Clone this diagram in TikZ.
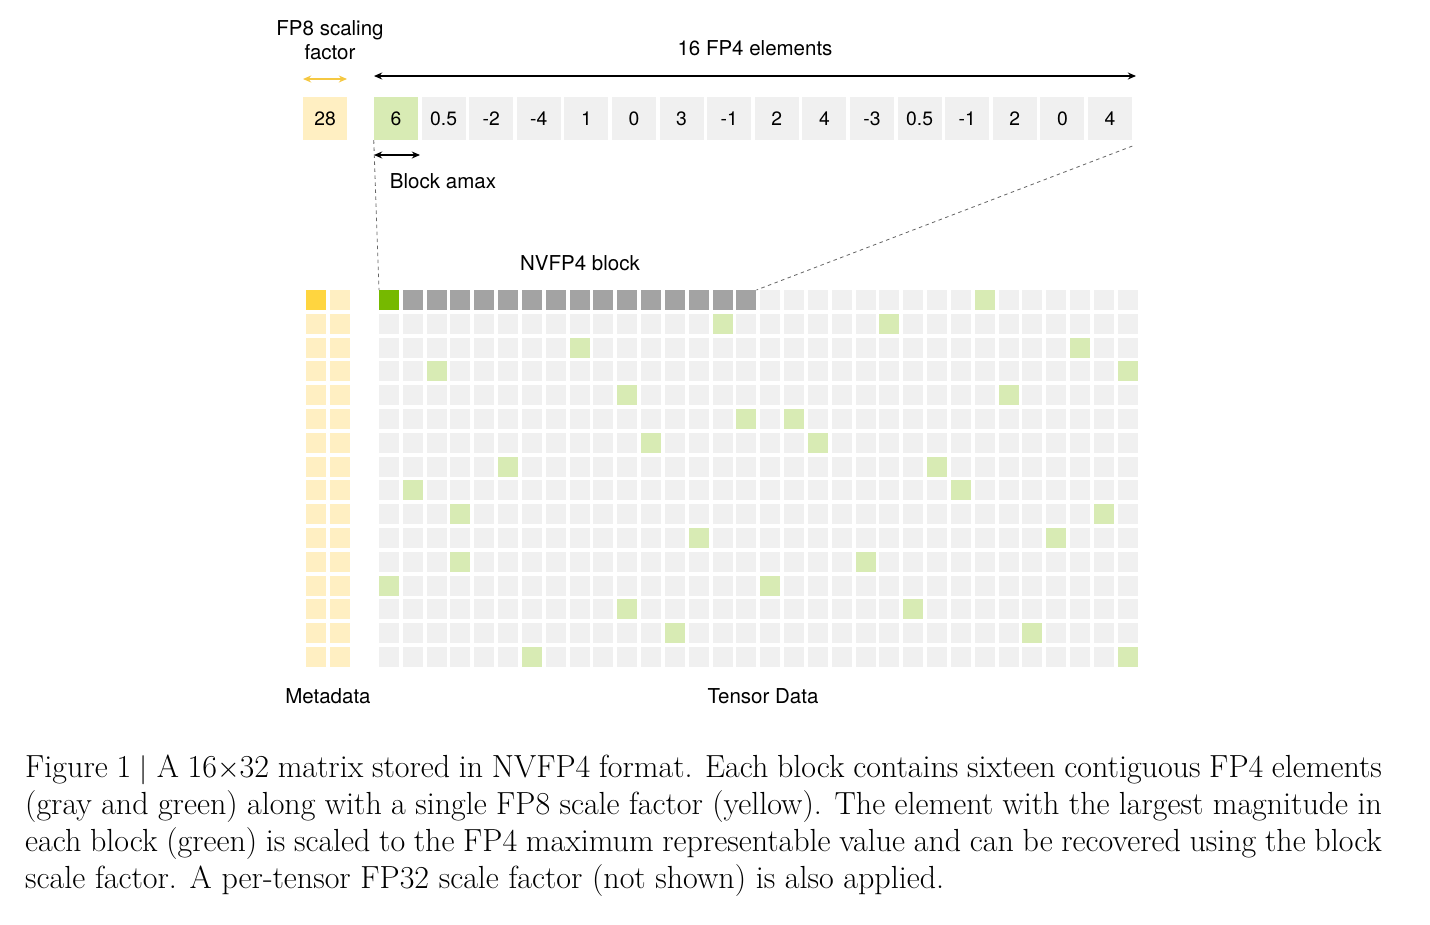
\documentclass[tikz,border=0pt]{standalone}
\usepackage{fontspec}
\newfontfamily\dsans{TeX Gyre Heros}
\usetikzlibrary{arrows.meta}
\definecolor{lgray}{HTML}{F0F0F0}
\definecolor{dgray}{HTML}{A3A3A3}
\definecolor{lgreen}{HTML}{D8EBB4}
\definecolor{bgreen}{HTML}{76B900}
\definecolor{lyel}{HTML}{FFEFC2}
\definecolor{gold}{HTML}{FFD53F}
\definecolor{yarrow}{HTML}{F5C842}
\tikzset{
  cell/.style={draw=none,minimum width=0.6cm,minimum height=0.6cm,inner sep=0,outer sep=0},
  valbox/.style={draw=none,fill=lgray,minimum width=1.32cm,minimum height=1.29cm,inner sep=0,font=\dsans\fontsize{16.5}{18}\selectfont},
  lab/.style={font=\dsans\fontsize{17.5}{20}\selectfont,inner sep=0},
  darr/.style={{Stealth[length=7pt,width=6pt]}-{Stealth[length=7pt,width=6pt]},line width=1.4pt}
}
\begin{document}
\begin{tikzpicture}[x=0.03cm,y=-0.03cm]
\useasboundingbox (0,0) rectangle (1430,924);
% top values
\node[valbox,fill=lyel] (sf) at (325,118.5) {28};
\foreach \v [count=\i from 0] in {6,0.5,-2,-4,1,0,3,-1,2,4,-3,0.5,-1,2,0,4}{
  \node[valbox] (v\i) at (396+47.6*\i,118.5) {\v};
}
\node[valbox,fill=lgreen] at (v0) {6};
\node[lab,align=center] (fp8) at (330,40) {FP8 scaling\\factor};
\coordinate (ya) at (303,79); \coordinate (yb) at (347,79);
\draw[darr,yarrow] (ya) -- (yb);
\node[lab] (fp4) at (755,48) {16 FP4 elements};
\coordinate (ba) at (374,76); \coordinate (bb) at (1136,76);
\draw[darr] (ba) -- (bb);
\coordinate (aa) at (374,155); \coordinate (ab) at (420,155);
\draw[darr] (aa) -- (ab);
\node[lab] (amax) at (443,181) {Block amax};
\node[lab] (nv) at (580,263) {NVFP4 block};
% metadata
\foreach \r in {0,...,15}{
  \node[cell,fill=lyel] (m\r a) at (316,300+23.8*\r) {};
  \node[cell,fill=lyel] (m\r b) at (340,300+23.8*\r) {};
}
\node[cell,fill=gold] at (m0a) {};
% tensor grid
\foreach \r in {0,...,15}{
  \foreach \c in {0,...,31}{
    \node[cell,fill=lgray] (g\r-\c) at (389+23.83*\c,300+23.8*\r) {};
  }
}
\foreach \c in {1,...,15}{ \node[cell,fill=dgray] at (g0-\c) {}; }
\node[cell,fill=bgreen] at (g0-0) {};
\foreach \r/\a/\b in {0/25/25,1/14/21,2/8/29,3/2/31,4/10/26,5/15/17,6/11/18,7/5/23,8/1/24,9/3/30,10/13/28,11/3/20,12/0/16,13/10/22,14/12/27,15/6/31}{
  \node[cell,fill=lgreen] at (g\r-\b) {};
  \ifnum\r>0 \node[cell,fill=lgreen] at (g\r-\a) {};\fi
}
% dashed connectors
\draw[dashed,gray!80!black,line width=0.7pt] (v0.south west) -- (g0-0.north west);
\draw[dashed,gray!80!black,line width=0.7pt] ([yshift=-5pt]v15.south east) -- (g0-15.north east);
\node[lab] (meta) at (328,696) {Metadata};
\node[lab] (td) at (763,696) {Tensor Data};
\node[anchor=north west,inner sep=0,text width=40.7cm,font=\fontsize{27.3}{31.5}\selectfont,align=justify] (cap) at (25,755)
{Figure 1 $|$ A 16$\times$32 matrix stored in NVFP4 format. Each block contains sixteen contiguous FP4 elements (gray and green) along with a single FP8 scale factor (yellow). The element with the largest magnitude in each block (green) is scaled to the FP4 maximum representable value and can be recovered using the block scale factor. A per-tensor FP32 scale factor (not shown) is also applied.};
\end{tikzpicture}
\end{document}
